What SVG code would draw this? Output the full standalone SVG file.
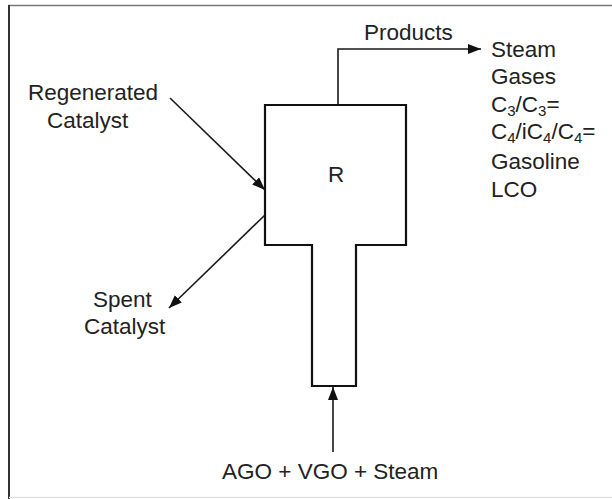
<svg xmlns="http://www.w3.org/2000/svg" width="612" height="499" viewBox="0 0 612 499">
<style>
text{font-family:"Liberation Sans",Arial,sans-serif;font-size:22.5px;fill:#222}
.sub{font-size:15px}
.ln{fill:none;stroke:#1a1a1a;stroke-width:1.6}
.box{fill:#fff;stroke:#111;stroke-width:2.2}
</style>
<defs>
<marker id="ah" markerUnits="userSpaceOnUse" markerWidth="14" markerHeight="11" refX="13" refY="5" orient="auto">
<path d="M0,0 L13,5 L0,10 Z" fill="#111"/>
</marker>
</defs>
<rect width="612" height="499" fill="#fff"/>
<g id="frame">
<line x1="8" y1="5.5" x2="612" y2="5.5" stroke="#777" stroke-width="1.5"/>
<line x1="9" y1="5" x2="9" y2="499" stroke="#333" stroke-width="2"/>
<line x1="9" y1="497.5" x2="612" y2="497.5" stroke="#e2e2e2" stroke-width="1.5"/>
</g>
<g id="connectors">
<path class="ln" d="M338,105 V49 H481" stroke-width="2" marker-end="url(#ah)"/>
<line class="ln" x1="170" y1="98" x2="265" y2="190" marker-end="url(#ah)"/>
<line class="ln" x1="265" y1="215" x2="169" y2="308" marker-end="url(#ah)"/>
<line class="ln" x1="333" y1="452" x2="333" y2="387" marker-end="url(#ah)"/>
</g>
<g id="reactor">
<path class="box" d="M265,105 H406 V245 H356 V386 H312 V245 H265 Z"/>
<text x="336" y="182" text-anchor="middle">R</text>
</g>
<g id="regenerated">
<text x="28" y="100">Regenerated</text>
<text x="47" y="128">Catalyst</text>
</g>
<g id="spent">
<text x="93" y="307">Spent</text>
<text x="84" y="334">Catalyst</text>
</g>
<g id="products-label">
<text x="364" y="40">Products</text>
</g>
<g id="products-list">
<text x="491" y="57">Steam</text>
<text x="491" y="84">Gases</text>
<text x="491" y="112">C<tspan class="sub" dy="4">3</tspan><tspan dy="-4">/C</tspan><tspan class="sub" dy="4">3</tspan><tspan dy="-4">=</tspan></text>
<text x="491" y="139">C<tspan class="sub" dy="4">4</tspan><tspan dy="-4">/iC</tspan><tspan class="sub" dy="4">4</tspan><tspan dy="-4">/C</tspan><tspan class="sub" dy="4">4</tspan><tspan dy="-4">=</tspan></text>
<text x="491" y="169">Gasoline</text>
<text x="491" y="197">LCO</text>
</g>
<g id="feed">
<text x="222" y="479">AGO + VGO + Steam</text>
</g>
</svg>
